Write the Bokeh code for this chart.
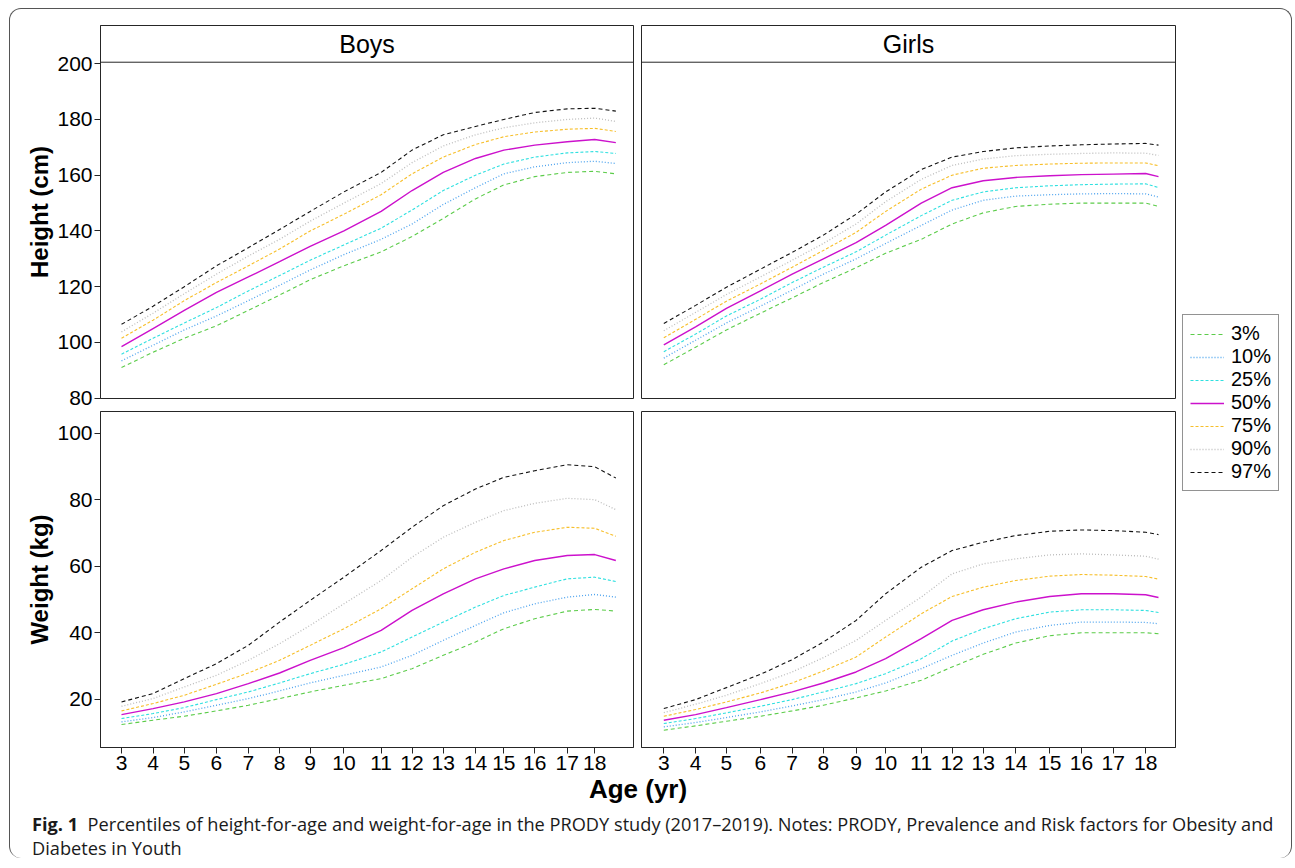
from bokeh.plotting import figure
from bokeh.models import Range1d, FixedTicker, Span, Label, Legend, LegendItem, Div
from bokeh.layouts import row, column
from bokeh.embed import file_html
from bokeh.resources import INLINE

# ---------------- data ----------------
age_labels = ["3", "4", "5", "6", "7", "8", "9", "10", "11", "12", "13", "14", "15", "16", "17", "18"]
# axis position of each age label (the published axis is not evenly spaced)
tick_pos_boys = [3.00, 4.00, 4.99, 6.01, 7.02, 8.01, 8.98, 10.05, 11.23, 12.21, 13.20, 14.22, 15.12, 16.10, 17.13, 18.00]
tick_pos_girls = [3.00, 3.99, 4.95, 6.01, 7.00, 7.97, 8.99, 9.91, 11.02, 11.98, 12.95, 13.96, 15.02, 16.01, 17.00, 18.01]
end_pos_boys = 18.67
end_pos_girls = 18.41

percentiles = ["3%", "10%", "25%", "50%", "75%", "90%", "97%"]
height_ticks = [80, 100, 120, 140, 160, 180, 200]
weight_ticks = [20, 40, 60, 80, 100]

# Boys height (cm), ages 3..18 and curve end
bh_p3 = [91.0, 96.5, 101.5, 106.0, 111.5, 117.0, 122.5, 127.5, 132.5, 138.0, 144.5, 151.5, 156.5, 159.5, 161.0, 161.4, 160.5]
bh_p10 = [93.4, 99.0, 104.5, 109.5, 115.0, 120.5, 126.0, 131.5, 137.0, 142.5, 149.5, 155.5, 160.5, 163.0, 164.5, 165.0, 164.2]
bh_p25 = [95.8, 101.5, 107.0, 112.5, 118.5, 124.0, 129.5, 135.0, 141.0, 147.5, 154.5, 160.0, 164.0, 166.5, 168.0, 168.5, 167.8]
bh_p50 = [98.5, 105.0, 111.5, 118.0, 123.5, 129.0, 134.5, 140.0, 147.0, 154.5, 161.0, 166.0, 169.0, 170.8, 172.0, 172.8, 171.7]
bh_p75 = [101.5, 108.0, 115.0, 121.5, 127.5, 133.5, 140.0, 146.0, 153.0, 160.5, 166.5, 171.0, 173.8, 175.5, 176.5, 176.8, 175.7]
bh_p90 = [103.8, 110.5, 117.5, 124.5, 131.0, 137.0, 143.5, 150.0, 157.0, 164.5, 170.5, 174.5, 177.0, 178.8, 180.0, 180.5, 179.3]
bh_p97 = [106.5, 113.0, 120.0, 127.5, 134.0, 140.5, 147.0, 154.0, 161.0, 169.0, 174.5, 177.5, 180.0, 182.5, 183.8, 184.0, 183.0]

# Girls height (cm)
gh_p3 = [92.0, 98.3, 104.5, 110.5, 116.0, 121.5, 126.8, 132.0, 137.0, 142.5, 146.5, 148.8, 149.6, 150.0, 150.0, 150.0, 148.8]
gh_p10 = [94.4, 100.8, 107.0, 113.0, 118.8, 124.5, 130.0, 135.5, 142.0, 147.5, 151.0, 152.5, 153.0, 153.3, 153.4, 153.3, 152.2]
gh_p25 = [96.7, 103.0, 109.5, 115.5, 121.5, 127.0, 132.5, 138.5, 145.5, 151.0, 154.0, 155.5, 156.2, 156.6, 156.8, 156.9, 155.6]
gh_p50 = [99.1, 105.6, 112.2, 118.5, 124.5, 130.0, 135.8, 142.0, 150.0, 155.5, 158.0, 159.2, 159.8, 160.2, 160.4, 160.6, 159.5]
gh_p75 = [101.7, 108.3, 114.8, 121.0, 127.0, 133.0, 139.5, 147.0, 155.0, 160.0, 162.5, 163.5, 164.0, 164.3, 164.4, 164.4, 163.4]
gh_p90 = [104.2, 110.8, 117.2, 123.5, 129.5, 135.5, 142.5, 150.5, 158.5, 163.5, 165.8, 167.0, 167.5, 167.8, 168.0, 167.9, 167.1]
gh_p97 = [106.8, 113.3, 119.8, 126.3, 132.3, 138.5, 146.0, 154.0, 162.0, 166.5, 168.5, 169.8, 170.5, 170.9, 171.2, 171.4, 170.8]

# Boys weight (kg)
bw_p3 = [12.4, 13.7, 14.9, 16.5, 18.2, 20.2, 22.2, 24.2, 26.2, 29.2, 33.2, 37.2, 41.2, 44.2, 46.5, 47.0, 46.5]
bw_p10 = [13.2, 14.5, 16.2, 18.2, 20.2, 22.5, 24.9, 27.2, 29.7, 33.2, 37.7, 42.2, 46.0, 48.7, 50.7, 51.5, 50.7]
bw_p25 = [14.2, 15.7, 17.5, 19.9, 22.2, 24.9, 27.7, 30.5, 34.2, 38.7, 43.2, 47.7, 51.2, 53.7, 56.2, 56.7, 55.4]
bw_p50 = [15.4, 17.2, 19.2, 21.7, 24.7, 27.9, 31.7, 35.5, 40.7, 46.7, 51.7, 56.2, 59.2, 61.7, 63.2, 63.5, 61.7]
bw_p75 = [16.5, 18.7, 21.2, 24.5, 27.9, 31.7, 36.2, 41.2, 47.2, 53.2, 59.2, 64.2, 67.7, 70.2, 71.7, 71.4, 69.0]
bw_p90 = [17.9, 20.2, 23.7, 27.2, 31.7, 36.7, 42.2, 48.7, 55.7, 62.7, 68.7, 73.2, 76.7, 78.9, 80.4, 80.0, 77.0]
bw_p97 = [19.2, 21.7, 26.2, 30.7, 36.2, 43.2, 49.7, 56.7, 64.7, 71.7, 78.2, 83.2, 86.7, 88.7, 90.5, 89.9, 86.5]

# Girls weight (kg)
gw_p3 = [10.7, 12.0, 13.4, 14.9, 16.5, 18.2, 20.4, 22.5, 25.7, 29.7, 33.5, 36.9, 39.1, 40.0, 40.0, 40.0, 39.7]
gw_p10 = [11.7, 13.0, 14.5, 16.2, 18.0, 19.9, 22.2, 24.9, 29.2, 33.2, 36.9, 40.2, 42.2, 43.2, 43.2, 43.1, 42.7]
gw_p25 = [12.7, 14.2, 15.9, 17.9, 19.9, 22.2, 24.7, 27.7, 32.2, 37.5, 41.2, 44.2, 46.2, 46.9, 46.9, 46.7, 46.1]
gw_p50 = [13.7, 15.4, 17.5, 19.9, 22.2, 24.9, 28.2, 32.2, 38.2, 43.7, 46.9, 49.2, 50.9, 51.7, 51.7, 51.4, 50.6]
gw_p75 = [14.9, 16.9, 19.2, 21.9, 24.9, 28.5, 32.7, 38.7, 45.7, 50.9, 53.7, 55.7, 57.0, 57.5, 57.3, 56.9, 56.1]
gw_p90 = [16.0, 18.5, 21.2, 24.7, 28.2, 32.5, 37.7, 43.7, 50.7, 57.7, 60.7, 62.2, 63.4, 63.7, 63.4, 63.0, 62.1]
gw_p97 = [17.2, 19.9, 23.5, 27.5, 31.9, 37.2, 43.7, 51.7, 59.7, 64.7, 67.2, 69.2, 70.5, 70.9, 70.7, 70.2, 69.5]

# ---------------- styles ----------------
FONT = "Liberation Sans"
line_colors = ["#5ccc4a", "#4da3ee", "#2fe0e0", "#cc11cc", "#f7bf2a", "#bdbdbd", "#111111"]
line_dashes = ["4 3", "1 2", "3 2", "solid", "3 2", "1 2", "4 3"]
line_widths = [1.1, 1.3, 1.1, 1.4, 1.1, 1.3, 1.1]
FRAME = "#262626"

BOYS_X = (2.334, 19.23)
GIRLS_X = (2.305, 18.94)
H_Y = (79.9, 213.7)
STRIP_LINE = 200.53
W_Y = (5.5, 106.5)


def base_fig(width, height, xr, yr, left, right, top, bottom, xaxis, yaxis):
    p = figure(width=width, height=height, x_range=Range1d(*xr), y_range=Range1d(*yr),
               toolbar_location=None, output_backend="svg",
               x_axis_location="below" if xaxis else None,
               y_axis_location="left" if yaxis else None,
               min_border_left=left, min_border_right=right,
               min_border_top=top, min_border_bottom=bottom)
    p.grid.visible = False
    p.outline_line_color = FRAME
    p.outline_line_width = 1
    p.outline_line_alpha = 1
    p.border_fill_alpha = 0
    p.background_fill_color = "white"
    return p


def style_axis(ax):
    ax.major_tick_out = 6
    ax.major_tick_in = 0
    ax.minor_tick_out = 0
    ax.minor_tick_in = 0
    ax.axis_line_color = FRAME
    ax.major_tick_line_color = FRAME
    ax.major_label_text_font = FONT
    ax.major_label_text_font_size = "21px"
    ax.major_label_text_color = "black"
    ax.major_label_standoff = 2
    ax.axis_label_text_font = FONT
    ax.axis_label_text_font_size = "24px"
    ax.axis_label_text_font_style = "bold"
    ax.axis_label_text_color = "black"


def add_curves(p, xs, series):
    for vals, c, d, w in zip(series, line_colors, line_dashes, line_widths):
        p.line(x=xs, y=vals, line_color=c, line_dash=d, line_width=w)


def add_strip(p, title, xr):
    p.add_layout(Span(location=STRIP_LINE, dimension="width", line_color=FRAME, line_width=1))
    p.add_layout(Label(x=(xr[0] + xr[1]) / 2, y=(STRIP_LINE + H_Y[1]) / 2, text=title,
                       text_align="center", text_baseline="middle", text_font=FONT,
                       text_font_size="25px", text_color="black"))


xs_boys = tick_pos_boys + [end_pos_boys]
xs_girls = tick_pos_girls + [end_pos_girls]

# Boys height
p_bh = base_fig(626, 401, BOYS_X, H_Y, 90, 3, 16, 12, False, True)
style_axis(p_bh.yaxis[0])
p_bh.yaxis.ticker = FixedTicker(ticks=height_ticks)
p_bh.yaxis.axis_label = "Height (cm)"
p_bh.yaxis.axis_label_standoff = 1
add_curves(p_bh, xs_boys, [bh_p3, bh_p10, bh_p25, bh_p50, bh_p75, bh_p90, bh_p97])
add_strip(p_bh, "Boys", BOYS_X)

# Girls height
p_gh = base_fig(542, 401, GIRLS_X, H_Y, 5, 3, 16, 12, False, False)
add_curves(p_gh, xs_girls, [gh_p3, gh_p10, gh_p25, gh_p50, gh_p75, gh_p90, gh_p97])
add_strip(p_gh, "Girls", GIRLS_X)

# Boys weight
p_bw = base_fig(626, 370, BOYS_X, W_Y, 90, 3, 1, 33, True, True)
style_axis(p_bw.yaxis[0])
style_axis(p_bw.xaxis[0])
p_bw.yaxis.ticker = FixedTicker(ticks=weight_ticks)
p_bw.yaxis.axis_label = "Weight (kg)"
p_bw.yaxis.axis_label_standoff = 1
p_bw.xaxis.ticker = FixedTicker(ticks=tick_pos_boys)
p_bw.xaxis.major_label_overrides = {t: l for t, l in zip(tick_pos_boys, age_labels)}
add_curves(p_bw, xs_boys, [bw_p3, bw_p10, bw_p25, bw_p50, bw_p75, bw_p90, bw_p97])

# Girls weight
p_gw = base_fig(542, 370, GIRLS_X, W_Y, 5, 3, 1, 33, True, False)
style_axis(p_gw.xaxis[0])
p_gw.xaxis.ticker = FixedTicker(ticks=tick_pos_girls)
p_gw.xaxis.major_label_overrides = {t: l for t, l in zip(tick_pos_girls, age_labels)}
add_curves(p_gw, xs_girls, [gw_p3, gw_p10, gw_p25, gw_p50, gw_p75, gw_p90, gw_p97])

# Legend panel
p_lg = figure(width=113, height=771, x_range=Range1d(0, 1), y_range=Range1d(0, 1),
              toolbar_location=None, output_backend="svg", x_axis_location=None, y_axis_location=None,
              min_border_left=4, min_border_right=0, min_border_top=305, min_border_bottom=0)
p_lg.grid.visible = False
p_lg.outline_line_color = None
p_lg.border_fill_alpha = 0
p_lg.background_fill_alpha = 0
items = []
for lab, c, d, w in zip(percentiles, line_colors, line_dashes, line_widths):
    r = p_lg.line(x=[float("nan")], y=[float("nan")], line_color=c, line_dash=d, line_width=w)
    items.append(LegendItem(label=lab, renderers=[r]))
legend = Legend(items=items, location="top_left", margin=0, padding=7, spacing=0,
                glyph_width=34, glyph_height=20, label_height=20, label_standoff=7,
                label_text_font=FONT, label_text_font_size="20px",
                label_text_color="black",
                border_line_color=FRAME, border_line_width=1, background_fill_alpha=0)
p_lg.add_layout(legend)

age_div = Div(text="<div style=\"font-family:'Liberation Sans'; font-weight:bold; font-size:26px; "
                   "line-height:24px; text-align:center; width:1256px; position:relative; top:-3px; "
                   "color:black\">Age (yr)</div>", width=1281, height=24, margin=0)

caption = Div(text="<div style=\"font-family:'Open Sans'; font-size:18.2px; line-height:24.3px; "
                   "padding-left:22px; padding-top:8px; white-space:nowrap; color:#1a1a1a\">"
                   "<b>Fig. 1</b>&nbsp; Percentiles of height-for-age and weight-for-age in the PRODY study "
                   "(2017\u20132019). Notes: PRODY, Prevalence and Risk factors for Obesity and<br>"
                   "Diabetes in Youth</div>", width=1281, height=54, margin=0)

grid = row(column(p_bh, p_bw), column(p_gh, p_gw), p_lg)
root = column(grid, age_div, caption, margin=(8, 0, 0, 9),
              styles={"border": "1px solid #555", "border-bottom": "none", "border-radius": "12px"})

open("out.html", "w").write(file_html(root, INLINE))
